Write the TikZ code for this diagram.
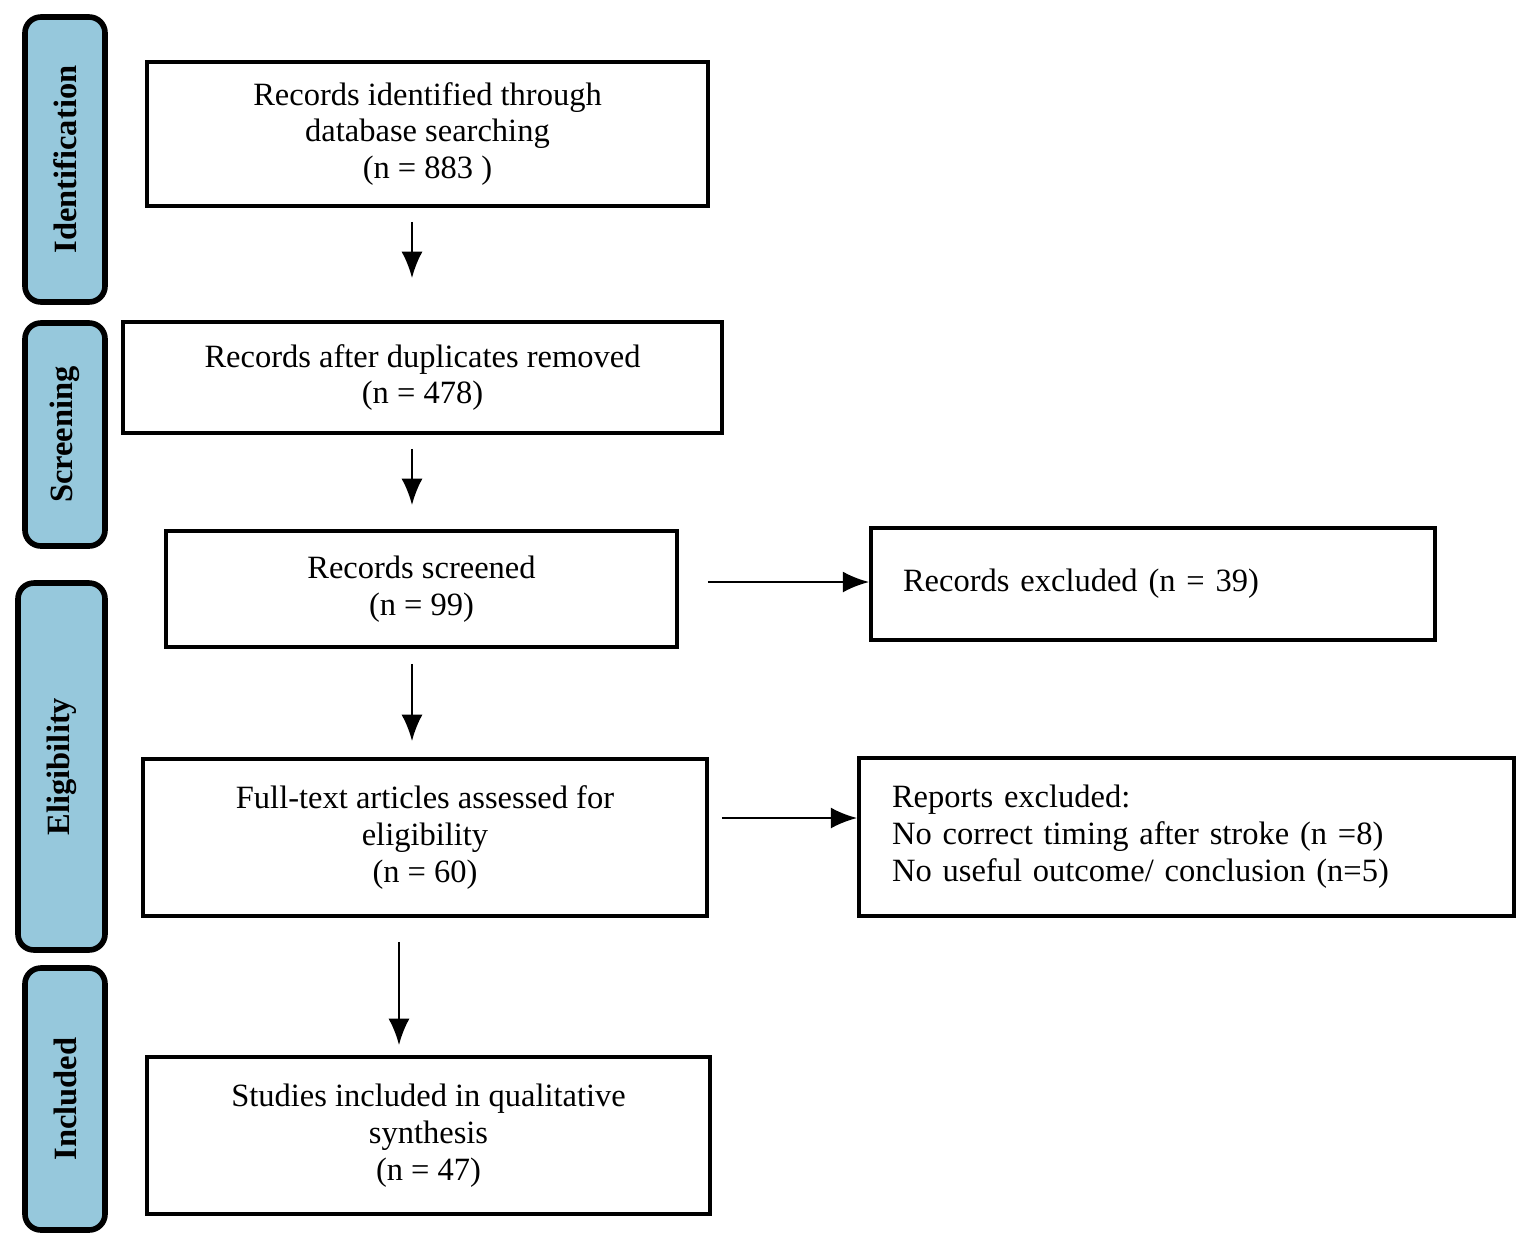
\documentclass[tikz,border=0pt]{standalone}
\usepackage{fontspec}
\setmainfont{Liberation Serif}
\usetikzlibrary{arrows.meta}

\definecolor{phase}{RGB}{150,200,220}

\tikzset{
  box/.style={draw, line width=2.2pt, inner sep=0pt, align=center,
    font=\fontsize{18.5}{21}\selectfont},
  sidebox/.style={draw, line width=3.2pt, rounded corners=9pt, fill=phase,
    rotate=90, inner sep=0pt, font=\fontsize{18.5}{20}\selectfont\bfseries},
  arr/.style={-{Latex[length=15pt,width=12pt]}, line width=1.5pt}
}

\begin{document}
\begin{tikzpicture}[x=0.02cm, y=-0.02cm]
  \useasboundingbox (0,0) rectangle (1535,1255);

  % phases
  \node[sidebox, minimum width=5.7cm, minimum height=1.6cm] (ident) at (65,159.5) {Identification};
  \node[sidebox, minimum width=4.46cm, minimum height=1.6cm] (screen) at (65,434.5) {Screening};
  \node[sidebox, minimum width=7.34cm, minimum height=1.74cm] (elig) at (61.5,766.5) {Eligibility};
  \node[sidebox, minimum width=5.24cm, minimum height=1.6cm] (incl) at (65,1099) {Included};

  % main column
  \node[box, minimum width=11.22cm, minimum height=2.88cm] (ident_box) at (427.5,134)
    {Records identified through\\database searching\\(n = 883 )};
  \node[box, minimum width=11.98cm, minimum height=2.22cm] (dup_box) at (422.5,377.5)
    {Records after duplicates removed\\(n = 478)};
  \node[box, minimum width=10.22cm, minimum height=2.32cm] (screen_box) at (421.5,589)
    {Records screened\\(n = 99)};
  \node[box, minimum width=11.28cm, minimum height=3.14cm] (full_box) at (425,837.5)
    {Full-text articles assessed for\\eligibility\\(n = 60)};
  \node[box, minimum width=11.26cm, minimum height=3.14cm] (incl_box) at (428.5,1135.5)
    {Studies included in qualitative\\synthesis\\(n = 47)};

  % exclusions
  \node[box, align=left, text width=10.0cm, inner xsep=0.64cm,
    minimum height=2.24cm] (excl_box) at (1153,584)
    {Records excluded (n = 39)};
  \node[box, align=left, text width=11.78cm, inner xsep=0.66cm,
    minimum height=3.16cm] (rep_box) at (1186.5,837)
    {Reports excluded:\\No correct timing after stroke (n =8)\\No useful outcome/ conclusion (n=5)};

  \coordinate (colA) at (412,0);
  \coordinate (colB) at (399,0);
  \coordinate (rowA) at (0,582);
  \coordinate (rowB) at (0,818);

  \draw[arr, shorten <=0.28cm, shorten >=0.84cm] (ident_box.south -| colA) -- (dup_box.north -| colA);
  \draw[arr, shorten <=0.28cm, shorten >=0.48cm] (dup_box.south -| colA) -- (screen_box.north -| colA);
  \draw[arr, shorten <=0.3cm, shorten >=0.32cm] (screen_box.south -| colA) -- (full_box.north -| colA);
  \draw[arr, shorten <=0.48cm, shorten >=0.2cm] (full_box.south -| colB) -- (incl_box.north -| colB);

  \draw[arr, shorten <=0.58cm] (screen_box.east |- rowA) -- (excl_box.west |- rowA);
  \draw[arr, shorten <=0.26cm] (full_box.east |- rowB) -- (rep_box.west |- rowB);
\end{tikzpicture}
\end{document}
